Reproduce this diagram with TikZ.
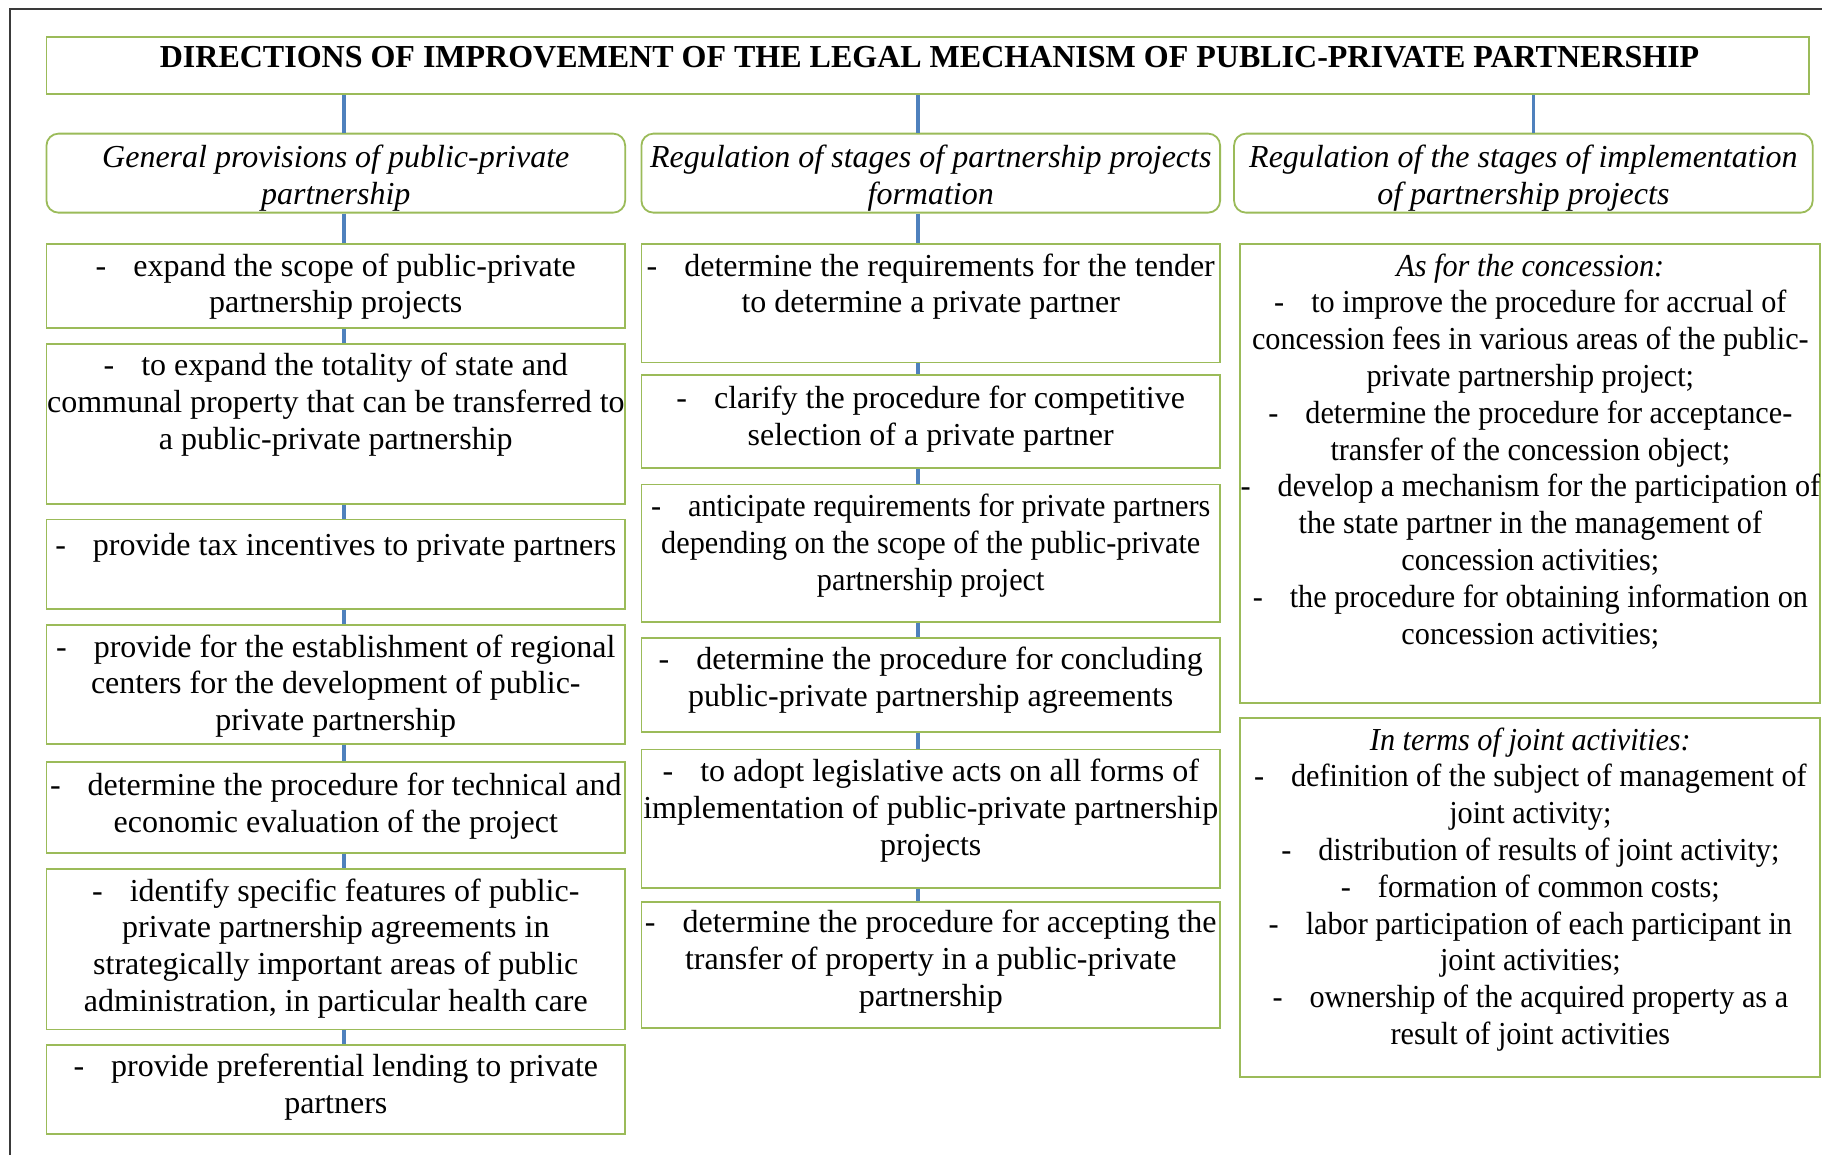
\documentclass[tikz,border=0pt]{standalone}
\usepackage{fontspec}
\setmainfont{Liberation Serif}
\newfontfamily\tightfont{Liberation Serif}[FakeStretch=0.945]
\usetikzlibrary{fit}
\definecolor{boxgreen}{HTML}{9BBB59}
\definecolor{linkblue}{HTML}{4F81BD}
\definecolor{framegray}{HTML}{3A3A3A}
\newcommand{\itemdash}{-\hspace{13.5pt}}
% a text node's top lies this far above its first baseline
\newcommand{\tb}[2]{(#1,#2-17.2)}
\begin{document}
\begin{tikzpicture}[x=0.581pt, y=-0.581pt,
  box/.style={draw=boxgreen, line width=0.9pt, inner sep=0pt},
  headbox/.style={box, rounded corners=6pt},
  txt/.style={align=center, inner sep=0pt, anchor=north,
    font=\fontsize{16}{18.4}\selectfont, execute at begin node=\strut},
  tighttxt/.style={txt, font=\fontsize{16}{18.4}\tightfont},
  headtxt/.style={txt, font=\fontsize{16}{18.4}\selectfont\itshape},
  conn/.style={draw=linkblue, line width=1.6pt}]
\useasboundingbox (0,0) rectangle (1568,994);
\fill[white] (0,0) rectangle (1568,994);
% page frame
\draw[framegray, line width=1pt] (9,994) -- (9,8) -- (1568,8);

% title
\node[box, fit={(40,32) (1557,81)}] (title) {};
\node[txt, font=\fontsize{16}{18.4}\selectfont\bfseries] (titletext) at \tb{800}{53}
  {DIRECTIONS OF IMPROVEMENT OF THE LEGAL MECHANISM OF PUBLIC-PRIVATE PARTNERSHIP};

% column headers
\node[headbox, fit={(40,115) (538,183)}] (h1) {};
\node[headtxt] (h1t) at \tb{289}{142} {General provisions of public-private\\partnership};
\node[headbox, fit={(552,115) (1050,183)}] (h2) {};
\node[headtxt] (h2t) at \tb{801}{142} {Regulation of stages of partnership projects\\formation};
\node[headbox, fit={(1062,115) (1560,183)}] (h3) {};
\node[headtxt] (h3t) at \tb{1311}{142} {Regulation of the stages of implementation\\of partnership projects};

% column 1
\node[box, fit={(40,210) (538,282)}] (b1) {};
\node[txt] (b1t) at \tb{289}{235} {\itemdash expand the scope of public-private\\partnership projects};
\node[box, fit={(40,296) (538,434)}] (b2) {};
\node[txt] (b2t) at \tb{289}{321} {\itemdash to expand the totality of state and\\communal property that can be transferred to\\a public-private partnership};
\node[box, fit={(40,447) (538,524)}] (b3) {};
\node[txt] (b3t) at \tb{289}{473} {\itemdash provide tax incentives to private partners};
\node[box, fit={(40,538) (538,640)}] (b4) {};
\node[txt] (b4t) at \tb{289}{563} {\itemdash provide for the establishment of regional\\centers for the development of public-\\private partnership};
\node[box, fit={(40,656) (538,734)}] (b5) {};
\node[txt] (b5t) at \tb{289}{682} {\itemdash determine the procedure for technical and\\economic evaluation of the project};
\node[box, fit={(40,748) (538,886)}] (b6) {};
\node[txt] (b6t) at \tb{289}{773} {\itemdash identify specific features of public-\\private partnership agreements in\\strategically important areas of public\\administration, in particular health care};
\node[box, fit={(40,899) (538,976)}] (b7) {};
\node[txt] (b7t) at \tb{289}{924} {\itemdash provide preferential lending to private\\partners};

% column 2
\node[box, fit={(552,210) (1050,312)}] (c1) {};
\node[txt] (c1t) at \tb{801}{235} {\itemdash determine the requirements for the tender\\to determine a private partner};
\node[box, fit={(552,323) (1050,403)}] (c2) {};
\node[txt] (c2t) at \tb{801}{349} {\itemdash clarify the procedure for competitive\\selection of a private partner};
\node[box, fit={(552,417) (1050,535)}] (c3) {};
\node[tighttxt] (c3t) at \tb{801}{442} {\itemdash anticipate requirements for private partners\\depending on the scope of the public-private\\partnership project};
\node[box, fit={(552,549) (1050,630)}] (c4) {};
\node[txt] (c4t) at \tb{801}{574} {\itemdash determine the procedure for concluding\\public-private partnership agreements};
\node[box, fit={(552,645) (1050,764)}] (c5) {};
\node[txt] (c5t) at \tb{801}{670} {\itemdash to adopt legislative acts on all forms of\\implementation of public-private partnership\\projects};
\node[box, fit={(552,776) (1050,885)}] (c6) {};
\node[txt] (c6t) at \tb{801}{800} {\itemdash determine the procedure for accepting the\\transfer of property in a public-private\\partnership};

% column 3
\node[box, fit={(1067,210) (1566,605)}] (d1) {};
\node[tighttxt] (d1t) at \tb{1317}{235} {\textit{As for the concession:}\\
  \itemdash to improve the procedure for accrual of\\
  concession fees in various areas of the public-\\
  private partnership project;\\
  \itemdash determine the procedure for acceptance-\\
  transfer of the concession object;\\
  \itemdash develop a mechanism for the participation of\\
  the state partner in the management of\\
  concession activities;\\
  \itemdash the procedure for obtaining information on\\
  concession activities;};
\node[box, fit={(1067,618) (1566,927)}] (d2) {};
\node[tighttxt] (d2t) at \tb{1317}{643} {\textit{In terms of joint activities:}\\
  \itemdash definition of the subject of management of\\
  joint activity;\\
  \itemdash distribution of results of joint activity;\\
  \itemdash formation of common costs;\\
  \itemdash labor participation of each participant in\\
  joint activities;\\
  \itemdash ownership of the acquired property as a\\
  result of joint activities};

% connectors
\coordinate (k1) at (296,0);
\coordinate (k2) at (790,0);
\coordinate (k3) at (1320,0);
\foreach \a/\b in {title/h1, h1/b1, b1/b2, b2/b3, b3/b4, b4/b5, b5/b6, b6/b7}
  \draw[conn] (k1 |- \a.south) -- (k1 |- \b.north);
\foreach \a/\b in {title/h2, h2/c1, c1/c2, c2/c3, c3/c4, c4/c5, c5/c6}
  \draw[conn] (k2 |- \a.south) -- (k2 |- \b.north);
\draw[conn] (k3 |- title.south) -- (k3 |- h3.north);
\end{tikzpicture}
\end{document}
